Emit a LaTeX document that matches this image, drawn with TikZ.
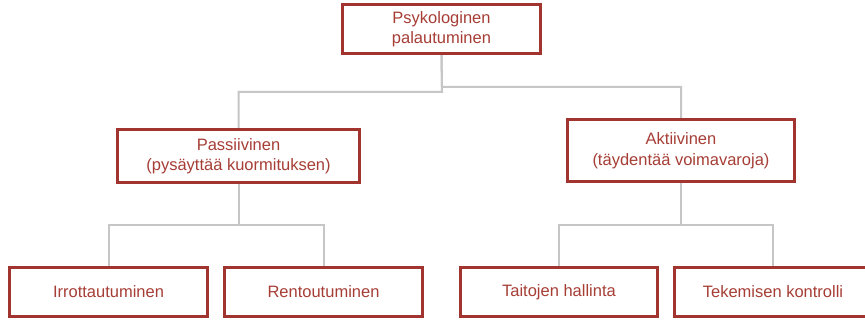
\documentclass[tikz,border=0pt]{standalone}
\usepackage{fontspec}
\setmainfont{Liberation Sans}
\definecolor{boxred}{RGB}{161,52,46}
\definecolor{txtred}{RGB}{166,62,54}
\definecolor{linegray}{RGB}{198,198,198}
\begin{document}
\begin{tikzpicture}[x=1pt,y=-1pt,
  box/.style={draw=boxred,line width=2pt,fill=white,text=txtred,align=center,
    inner sep=0pt,font=\fontsize{16.5}{20.5}\selectfont},
  conn/.style={draw=linegray,line width=2pt}]
\useasboundingbox[fill=white] (0,0) rectangle (865,320);
% nodes
\node[box,minimum width=197pt,minimum height=48pt] (top) at (441.5,29) {Psykologinen\\palautuminen};
\node[box,minimum width=241pt,minimum height=52pt] (pas) at (238.5,156) {Passiivinen\\(pysäyttää kuormituksen)};
\node[box,minimum width=226pt,minimum height=61pt] (akt) at (681,150.5) {Aktiivinen\\(täydentää voimavaroja)};
\node[box,minimum width=197pt,minimum height=48pt] (irr) at (108.5,292) {Irrottautuminen};
\node[box,minimum width=197pt,minimum height=48pt] (ren) at (323.5,292) {Rentoutuminen};
\node[box,minimum width=196pt,minimum height=48pt] (tai) at (559,292) {Taitojen hallinta};
\node[box,minimum width=196pt,minimum height=48pt] (tek) at (773,292) {Tekemisen kontrolli};
% junctions
\coordinate (jL) at (442,92);
\coordinate (jR) at (442,87);
\coordinate (jP) at (238.5,225);
\coordinate (jA) at (681,225);
% connectors
\draw[conn] (top.south) -- (jL) -| (pas.north);
\draw[conn] (top.south) -- (jR) -| (akt.north);
\draw[conn] (pas.south) -- (jP) -| (irr.north);
\draw[conn] (jP) -| (ren.north);
\draw[conn] (akt.south) -- (jA) -| (tai.north);
\draw[conn] (jA) -| (tek.north);
% redraw box borders over connector ends
\foreach \n in {top,pas,akt,irr,ren,tai,tek}{
  \draw[boxred,line width=2pt] (\n.north west) rectangle (\n.south east);
}
\end{tikzpicture}
\end{document}
